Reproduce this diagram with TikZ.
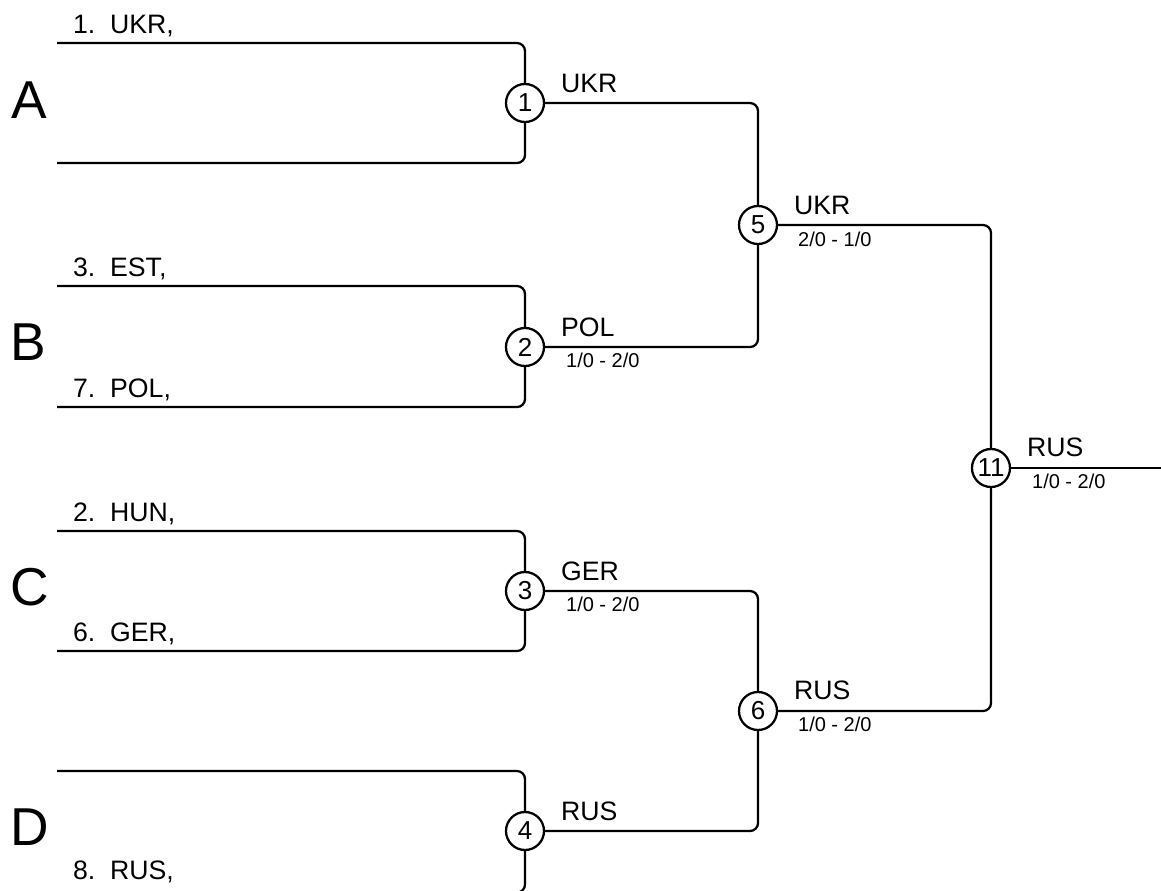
\documentclass[tikz,border=0pt]{standalone}
\usepackage{fontspec}
\setmainfont{Liberation Sans}
\begin{document}
\begin{tikzpicture}[x=0.75pt,y=-0.75pt,line width=1.7pt,
  match/.style={circle,draw,fill=white,line width=1.7pt,minimum size=28.5pt,inner sep=0pt,font=\fontsize{19.5}{22}\selectfont},
  team/.style={anchor=base west,inner sep=0pt,font=\fontsize{20}{24}\selectfont},
  score/.style={anchor=base west,inner sep=0pt,font=\fontsize{15}{18}\selectfont},
  grp/.style={anchor=base west,inner sep=0pt,font=\fontsize{40}{48}\selectfont},
  wire/.style={rounded corners=6pt}]
\useasboundingbox (0,0) rectangle (1161,890);

% match circles
\node[match] (c1) at (525,103) {1};
\node[match] (c2) at (525,347) {2};
\node[match] (c3) at (525,591) {3};
\node[match] (c4) at (525,831) {4};
\node[match] (c5) at (758,225) {5};
\node[match] (c6) at (758,711) {6};
\node[match] (c11) at (991,468) {11};

% entry line start points
\coordinate (a1) at (57,43);
\coordinate (a2) at (57,163);
\coordinate (b1) at (57,286);
\coordinate (b2) at (57,407);
\coordinate (g1) at (57,531);
\coordinate (g2) at (57,651);
\coordinate (d1) at (57,771);
\coordinate (d2) at (57,892.5);
\coordinate (fin) at (1165,468);

% group letters
\node[grp] (gA) at (10,118) {A};
\node[grp] (gB) at (9,360) {B};
\node[grp] (gC) at (9,605) {C};
\node[grp] (gD) at (9,845) {D};

% entry labels
\node[team] (t1) at (72,33) {1.~~UKR,};
\node[team] (t3) at (72,276) {3.~~EST,};
\node[team] (t7) at (72,397) {7.~~POL,};
\node[team] (t2) at (72,521) {2.~~HUN,};
\node[team] (t6) at (72,641) {6.~~GER,};
\node[team] (t8) at (72,879) {8.~~RUS,};

% winner labels
\node[team] (w1) at (560,92) {UKR};
\node[team] (w2) at (560,336) {POL};
\node[score] (s2) at (565,367) {1/0 - 2/0};
\node[team] (w3) at (560,580) {GER};
\node[score] (s3) at (565,611) {1/0 - 2/0};
\node[team] (w4) at (560,820) {RUS};
\node[team] (w5) at (793,214) {UKR};
\node[score] (s5) at (797,246) {2/0 - 1/0};
\node[team] (w6) at (793,699) {RUS};
\node[score] (s6) at (797,731) {1/0 - 2/0};
\node[team] (w11) at (1026,456) {RUS};
\node[score] (s11) at (1031,488) {1/0 - 2/0};

% connectors
\draw[wire] (a1) -| (c1);
\draw[wire] (a2) -| (c1);
\draw[wire] (b1) -| (c2);
\draw[wire] (b2) -| (c2);
\draw[wire] (g1) -| (c3);
\draw[wire] (g2) -| (c3);
\draw[wire] (d1) -| (c4);
\draw[wire] (d2) -| (c4);
\draw[wire] (c1) -| (c5);
\draw[wire] (c2) -| (c5);
\draw[wire] (c3) -| (c6);
\draw[wire] (c4) -| (c6);
\draw[wire] (c5) -| (c11);
\draw[wire] (c6) -| (c11);
\draw (c11) -- (fin);
\end{tikzpicture}
\end{document}
